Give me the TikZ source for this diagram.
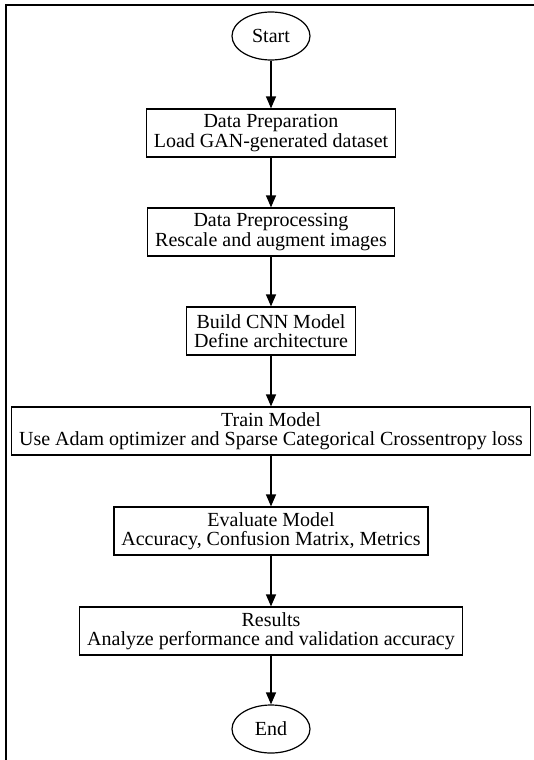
\documentclass[tikz,border=0pt]{standalone}
\usepackage{fontspec}
\setmainfont{Liberation Serif}
\usetikzlibrary{arrows.meta,shapes.geometric}
\begin{document}
\begin{tikzpicture}[x=1pt,y=-1pt,
  box/.style={draw, line width=1.2pt, align=center, font=\fontsize{20}{19.5}\selectfont,
    inner xsep=7.5pt, inner ysep=0pt, minimum height=48pt},
  oval/.style={draw, ellipse, line width=1.2pt, font=\fontsize{20}{19.5}\selectfont,
    inner sep=0pt, minimum width=78pt, minimum height=48pt},
  arr/.style={-{Triangle[length=12pt,width=10pt]}, line width=1.2pt}]
\useasboundingbox (0,0) rectangle (534,760);
\draw[line width=1.8pt] (6,775) -- (6,5) -- (550,5);
\node[oval] (start) at (271,36) {Start};
\node[box] (prep) at (271,133) {Data Preparation\\Load GAN-generated dataset};
\node[box] (preproc) at (271,232) {Data Preprocessing\\Rescale and augment images};
\node[box] (cnn) at (271,331) {Build CNN Model\\Define architecture};
\node[box] (train) at (271,431) {Train Model\\Use Adam optimizer and Sparse Categorical Crossentropy loss};
\node[box] (eval) at (271,531) {Evaluate Model\\Accuracy, Confusion Matrix, Metrics};
\node[box] (res) at (271,631) {Results\\Analyze performance and validation accuracy};
\node[oval] (end) at (271,729) {End};
\draw[arr] (start) -- (prep);
\draw[arr] (prep) -- (preproc);
\draw[arr] (preproc) -- (cnn);
\draw[arr] (cnn) -- (train);
\draw[arr] (train) -- (eval);
\draw[arr] (eval) -- (res);
\draw[arr] (res) -- (end);
\end{tikzpicture}
\end{document}
